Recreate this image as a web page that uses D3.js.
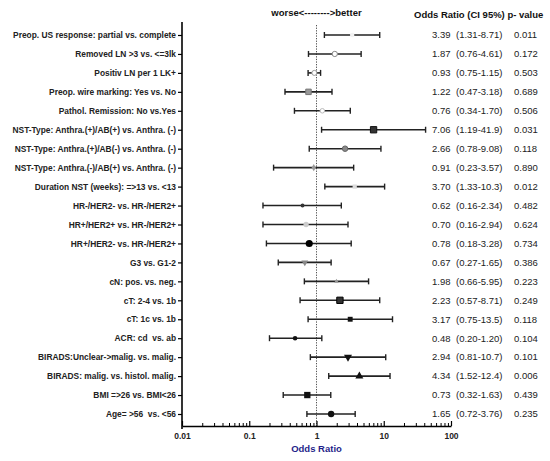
<!DOCTYPE html>
<html>
<head>
<meta charset="utf-8">
<script src="https://cdn.jsdelivr.net/npm/d3@7"></script>
<style>
  body { margin: 0; background: #fff; }
  text { font-family: "Liberation Sans", Arial, sans-serif; white-space: pre; }
</style>
</head>
<body>
<svg id="chart" width="550" height="461"></svg>
<script>
// row labels, top to bottom
var labels = [
  "Preop. US response: partial vs. complete",
  "Removed LN >3 vs. <=3lk",
  "Positiv LN per 1 LK+",
  "Preop. wire marking: Yes vs. No",
  "Pathol. Remission: No vs.Yes",
  "NST-Type: Anthra.(+)/AB(+) vs. Anthra. (-)",
  "NST-Type: Anthra.(+)/AB(-) vs. Anthra. (-)",
  "NST-Type: Anthra.(-)/AB(+) vs. Anthra. (-)",
  "Duration NST (weeks): =>13 vs. <13",
  "HR-/HER2- vs. HR-/HER2+",
  "HR+/HER2+ vs. HR-/HER2+",
  "HR+/HER2- vs. HR-/HER2+",
  "G3 vs. G1-2",
  "cN: pos. vs. neg.",
  "cT: 2-4 vs. 1b",
  "cT: 1c vs. 1b",
  "ACR: cd  vs. ab",
  "BIRADS:Unclear->malig. vs. malig.",
  "BIRADS: malig. vs. histol. malig.",
  "BMI =>26 vs. BMI<26",
  "Age= >56  vs. <56"
];

// plotted estimates (as drawn in the figure, rows 4 and 5 appear swapped vs. the text)
var oddsRatio = [3.39, 1.87, 0.93, 0.76, 1.22, 7.06, 2.66, 0.91, 3.70, 0.62, 0.70, 0.78, 0.67, 1.98, 2.23, 3.17, 0.48, 2.94, 4.34, 0.73, 1.65];
var ciLow     = [1.31, 0.76, 0.75, 0.34, 0.47, 1.19, 0.78, 0.23, 1.33, 0.16, 0.16, 0.18, 0.27, 0.66, 0.57, 0.75, 0.20, 0.81, 1.52, 0.32, 0.72];
var ciHigh    = [8.71, 4.61, 1.15, 1.70, 3.18, 41.9, 9.08, 3.57, 10.3, 2.34, 2.94, 3.28, 1.65, 5.95, 8.71, 13.5, 1.20, 10.7, 12.4, 1.63, 3.76];

// text columns
var orText = ["3.39", "1.87", "0.93", "1.22", "0.76", "7.06", "2.66", "0.91", "3.70", "0.62", "0.70", "0.78", "0.67", "1.98", "2.23", "3.17", "0.48", "2.94", "4.34", "0.73", "1.65"];
var ciText = ["(1.31-8.71)", "(0.76-4.61)", "(0.75-1.15)", "(0.47-3.18)", "(0.34-1.70)", "(1.19-41.9)", "(0.78-9.08)", "(0.23-3.57)", "(1.33-10.3)", "(0.16-2.34)", "(0.16-2.94)", "(0.18-3.28)", "(0.27-1.65)", "(0.66-5.95)", "(0.57-8.71)", "(0.75-13.5)", "(0.20-1.20)", "(0.81-10.7)", "(1.52-12.4)", "(0.32-1.63)", "(0.72-3.76)"];
var pText  = ["0.011", "0.172", "0.503", "0.689", "0.506", "0.031", "0.118", "0.890", "0.012", "0.482", "0.624", "0.734", "0.386", "0.223", "0.249", "0.118", "0.104", "0.101", "0.006", "0.439", "0.235"];

var majorTicks = [0.01, 0.1, 1, 10, 100];

// marker look per row
var markerStyle = [
  {shape: "circle",   fill: "#f2f2f2", stroke: "none", size: 16},
  {shape: "circle",   fill: "#fff",    stroke: "#888", size: 22},
  {shape: "circle",   fill: "#fff",    stroke: "#999", size: 20},
  {shape: "square",   fill: "#999",    stroke: "#777", size: 30},
  {shape: "circle",   fill: "#fff",    stroke: "#bbb", size: 16},
  {shape: "square",   fill: "#333",    stroke: "#111", size: 40},
  {shape: "circle",   fill: "#888",    stroke: "#666", size: 24},
  {shape: "diamond",  fill: "#999",    stroke: "none", size: 16},
  {shape: "square",   fill: "#ddd",    stroke: "none", size: 18},
  {shape: "circle",   fill: "#333",    stroke: "none", size: 12},
  {shape: "circle",   fill: "#ccc",    stroke: "none", size: 22},
  {shape: "circle",   fill: "#000",    stroke: "none", size: 40},
  {shape: "triDown",  fill: "#888",    stroke: "none", size: 20},
  {shape: "triangle", fill: "#999",    stroke: "none", size: 9},
  {shape: "square",   fill: "#333",    stroke: "#000", size: 40},
  {shape: "square",   fill: "#111",    stroke: "none", size: 24},
  {shape: "circle",   fill: "#111",    stroke: "none", size: 16},
  {shape: "triDown",  fill: "#111",    stroke: "none", size: 28},
  {shape: "triangle", fill: "#111",    stroke: "none", size: 28},
  {shape: "square",   fill: "#111",    stroke: "none", size: 40},
  {shape: "circle",   fill: "#111",    stroke: "none", size: 32}
];

var svg = d3.select("#chart");

var x = d3.scaleLog()
    .domain([0.01, 100])
    .range([182, 451]);

var y = d3.scalePoint()
    .domain(labels)
    .range([22, 427])
    .padding(0.686);

// minor ticks 2..9 in every decade
var minorTicks = [];
majorTicks.slice(0, -1).forEach(function(t) {
  for (var k = 2; k <= 9; k++) minorTicks.push(t * k);
});

// reference line at OR = 1
svg.append("line")
  .attr("x1", x(1)).attr("x2", x(1))
  .attr("y1", 25).attr("y2", 426)
  .attr("stroke", "#555")
  .attr("stroke-width", 1)
  .attr("stroke-dasharray", "1.3,1.3");

// y axis
var yAxis = svg.append("g")
  .attr("transform", "translate(182,0)")
  .call(d3.axisLeft(y).tickSize(4).tickSizeOuter(0).tickPadding(2));
yAxis.select(".domain").attr("stroke", "#000").attr("stroke-width", 1.6)
  .attr("d", "M0,22V429");
yAxis.selectAll(".tick line").attr("stroke", "#000").attr("stroke-width", 1.2);
yAxis.selectAll(".tick text")
  .attr("fill", "#222")
  .style("font-size", "8.4px")
  .style("font-weight", "bold");

// x axis (ticks point up)
var xAxis = svg.append("g")
  .attr("transform", "translate(0,426)")
  .call(d3.axisBottom(x).tickValues(majorTicks).tickSize(-5).tickSizeOuter(0).tickPadding(7)
    .tickFormat(function(d) { return d < 1 ? d3.format("")(d) : d3.format("d")(d); }));
xAxis.select(".domain").attr("stroke", "#000").attr("stroke-width", 1.6);
xAxis.selectAll(".tick line").attr("stroke", "#000").attr("stroke-width", 1.2);
xAxis.selectAll(".tick text")
  .attr("fill", "#222")
  .style("font-size", "8.5px")
  .style("font-weight", "bold");

var xMinor = svg.append("g")
  .attr("transform", "translate(0,426)")
  .call(d3.axisBottom(x).tickValues(minorTicks).tickSize(-3).tickFormat(""));
xMinor.select(".domain").remove();
xMinor.selectAll(".tick line").attr("stroke", "#000").attr("stroke-width", 1);

// error bars
var rows = svg.append("g").selectAll(".row")
  .data(labels)
  .enter().append("g")
    .attr("class", "row");

rows.append("line")
  .attr("x1", function(d, i) { return x(ciLow[i]); })
  .attr("x2", function(d, i) { return x(ciHigh[i]); })
  .attr("y1", function(d) { return y(d); })
  .attr("y2", function(d) { return y(d); })
  .attr("stroke", "#222")
  .attr("stroke-width", 1.6);

rows.append("line")
  .attr("x1", function(d, i) { return x(ciLow[i]); })
  .attr("x2", function(d, i) { return x(ciLow[i]); })
  .attr("y1", function(d) { return y(d) - 3; })
  .attr("y2", function(d) { return y(d) + 3; })
  .attr("stroke", "#222")
  .attr("stroke-width", 1.4);

rows.append("line")
  .attr("x1", function(d, i) { return x(ciHigh[i]); })
  .attr("x2", function(d, i) { return x(ciHigh[i]); })
  .attr("y1", function(d) { return y(d) - 3; })
  .attr("y2", function(d) { return y(d) + 3; })
  .attr("stroke", "#222")
  .attr("stroke-width", 1.4);

// point estimates
var shapes = {
  circle: d3.symbolCircle,
  square: d3.symbolSquare,
  diamond: d3.symbolDiamond,
  triangle: d3.symbolTriangle,
  triDown: d3.symbolTriangle
};
rows.append("path")
  .attr("d", function(d, i) { return d3.symbol().type(shapes[markerStyle[i].shape]).size(markerStyle[i].size)(); })
  .attr("transform", function(d, i) {
    return "translate(" + x(oddsRatio[i]) + "," + y(d) + ")" + (markerStyle[i].shape == "triDown" ? " rotate(180)" : "");
  })
  .attr("fill", function(d, i) { return markerStyle[i].fill; })
  .attr("stroke", function(d, i) { return markerStyle[i].stroke; })
  .attr("stroke-width", 1);

// value columns
rows.append("text")
  .attr("x", 432)
  .attr("y", function(d) { return y(d); })
  .attr("dy", "0.35em")
  .style("font-size", "9.5px")
  .attr("fill", "#222")
  .text(function(d, i) { return orText[i]; });

rows.append("text")
  .attr("x", 456)
  .attr("y", function(d) { return y(d); })
  .attr("dy", "0.35em")
  .style("font-size", "9.5px")
  .attr("fill", "#222")
  .text(function(d, i) { return ciText[i]; });

rows.append("text")
  .attr("x", 514)
  .attr("y", function(d) { return y(d); })
  .attr("dy", "0.35em")
  .style("font-size", "9.5px")
  .attr("fill", "#222")
  .text(function(d, i) { return pText[i]; });

// headers
svg.append("text")
  .attr("x", 316.5).attr("y", 13)
  .attr("dy", "0.35em")
  .attr("text-anchor", "middle")
  .style("font-size", "9.5px")
  .style("font-weight", "bold")
  .attr("fill", "#111")
  .text("worse<-------->better");

svg.append("text")
  .attr("x", 414).attr("y", 15)
  .attr("dy", "0.35em")
  .style("font-size", "9.5px")
  .style("font-weight", "bold")
  .attr("fill", "#111")
  .text("Odds Ratio (CI 95%) p- value");

svg.append("text")
  .attr("x", 316.5).attr("y", 449)
  .attr("dy", "0.35em")
  .attr("text-anchor", "middle")
  .style("font-size", "9.5px")
  .style("font-weight", "bold")
  .attr("fill", "#1f1f8a")
  .text("Odds Ratio");
</script>
</body>
</html>
